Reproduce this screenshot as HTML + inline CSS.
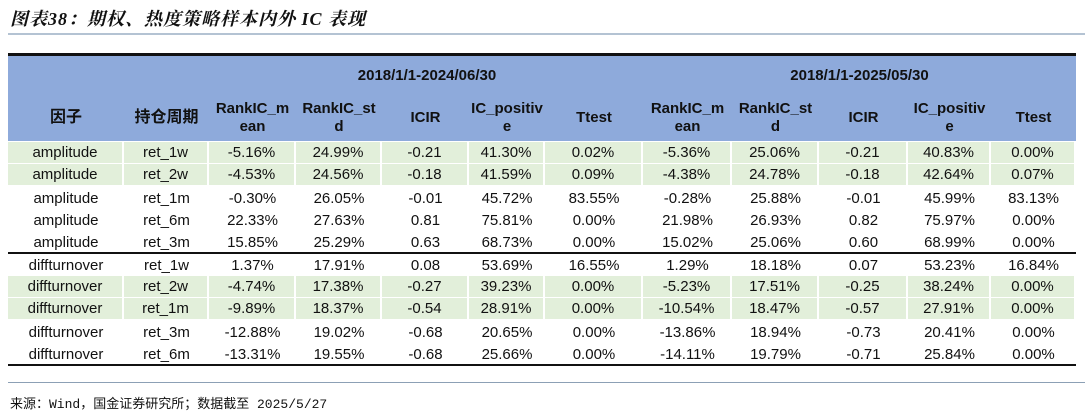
<!DOCTYPE html>
<html><head><meta charset="utf-8"><style>
body{margin:0;width:1085px;height:415px;background:#fff;position:relative;overflow:hidden;font-family:"Liberation Sans","Noto Sans CJK SC",sans-serif;color:#111}
.abs{position:absolute}
.title{left:10px;top:5px;font-size:18px;font-style:italic;font-weight:bold;font-family:"Liberation Serif","Noto Serif CJK SC",serif;letter-spacing:1px}
.cell{position:absolute;display:flex;align-items:center;justify-content:center;text-align:center;font-size:15px;box-sizing:border-box}
.hd{font-weight:bold;line-height:18px}
</style></head><body>
<div class="abs title">图表38：期权、热度策略样本内外 IC 表现</div>
<div class="abs" style="left:8px;top:33px;width:1077px;height:2px;background:#b4c3d3"></div>
<div class="abs" style="left:8px;top:53px;width:1068px;height:3px;background:#111"></div>
<div class="abs" style="left:8px;top:56px;width:1068px;height:85px;background:#8eaadb"></div>
<div class="cell hd" style="left:209px;top:62px;width:436px;height:28px">2018/1/1-2024/06/30</div>
<div class="cell hd" style="left:643px;top:62px;width:433px;height:28px">2018/1/1-2025/05/30</div>
<div class="abs" style="left:8px;top:364px;width:1068px;height:2px;background:#111"></div>
<div class="abs" style="left:8px;top:252px;width:1068px;height:2px;background:#111"></div>
<div class="abs" style="left:8px;top:382px;width:1077px;height:1px;background:#8ca0b5"></div>
<div class="abs" style="left:10px;top:393px;font-size:13px;font-family:'Liberation Mono','Noto Sans CJK SC',monospace">来源：Wind，国金证券研究所；数据截至 2025/5/27</div>
<div id="tbl"></div>
<script>
const cols=[8,124,209,296,382,469,545,643,732,819,908,991,1076];
const headers=["因子","持仓周期","RankIC_m<br>ean","RankIC_st<br>d","ICIR","IC_positiv<br>e","Ttest","RankIC_m<br>ean","RankIC_st<br>d","ICIR","IC_positiv<br>e","Ttest"];
const rows=[
["amplitude","ret_1w","-5.16%","24.99%","-0.21","41.30%","0.02%","-5.36%","25.06%","-0.21","40.83%","0.00%"],
["amplitude","ret_2w","-4.53%","24.56%","-0.18","41.59%","0.09%","-4.38%","24.78%","-0.18","42.64%","0.07%"],
["amplitude","ret_1m","-0.30%","26.05%","-0.01","45.72%","83.55%","-0.28%","25.88%","-0.01","45.99%","83.13%"],
["amplitude","ret_6m","22.33%","27.63%","0.81","75.81%","0.00%","21.98%","26.93%","0.82","75.97%","0.00%"],
["amplitude","ret_3m","15.85%","25.29%","0.63","68.73%","0.00%","15.02%","25.06%","0.60","68.99%","0.00%"],
["diffturnover","ret_1w","1.37%","17.91%","0.08","53.69%","16.55%","1.29%","18.18%","0.07","53.23%","16.84%"],
["diffturnover","ret_2w","-4.74%","17.38%","-0.27","39.23%","0.00%","-5.23%","17.51%","-0.25","38.24%","0.00%"],
["diffturnover","ret_1m","-9.89%","18.37%","-0.54","28.91%","0.00%","-10.54%","18.47%","-0.57","27.91%","0.00%"],
["diffturnover","ret_3m","-12.88%","19.02%","-0.68","20.65%","0.00%","-13.86%","18.94%","-0.73","20.41%","0.00%"],
["diffturnover","ret_6m","-13.31%","19.55%","-0.68","25.66%","0.00%","-14.11%","19.79%","-0.71","25.84%","0.00%"]];
const green=[true,true,false,false,false,false,true,true,false,false];
const rowTops=[142,164,187,209,231,254,276,298,321,343];
const t=document.getElementById('tbl');
headers.forEach((h,i)=>{
  const d=document.createElement('div');
  d.className='cell hd';
  d.style.cssText=`left:${cols[i]}px;top:96px;width:${cols[i+1]-cols[i]}px;height:44px;`+(i<2?'font-size:16px':'');
  d.innerHTML=h;
  
  
  t.appendChild(d);
});
rows.forEach((r,ri)=>{
  r.forEach((v,ci)=>{
    const d=document.createElement('div');
    d.className='cell';
    d.style.cssText=`left:${cols[ci]}px;top:${rowTops[ri]}px;width:${cols[ci+1]-cols[ci]}px;height:22px;`+(green[ri]?'background:#e2efda;border-right:2px solid #fff;border-bottom:1px solid #fff':'');
    d.textContent=v;
    
    
    t.appendChild(d);
  });
});
</script>
</body></html>
